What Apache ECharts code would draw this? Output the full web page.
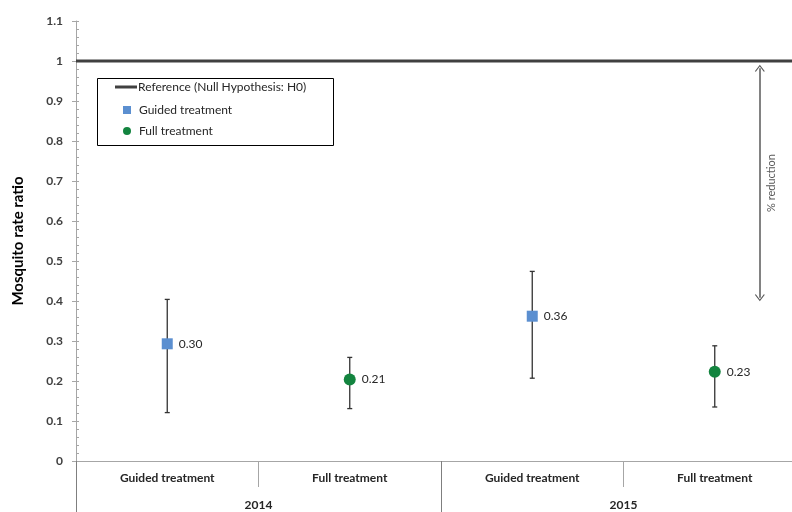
<!DOCTYPE html>
<html>
<head>
<meta charset="utf-8">
<script src="https://cdn.jsdelivr.net/npm/echarts@6/dist/echarts.min.js"></script>
<style>
  html, body { margin: 0; padding: 0; background: #fff; overflow: hidden; }
</style>
</head>
<body>
<div id="RateRatioChart" style="width: 810px;height:512px;"></div>
<script>
// 数据
var categories = ['Guided treatment', 'Full treatment', 'Guided treatment', 'Full treatment'];
var years = ['2014', '2015'];
var guidedValues = [0.293, '-', 0.362, '-'];
var fullValues = ['-', 0.204, '-', 0.223];
var pointLabels = ['0.30', '0.21', '0.36', '0.23'];
var ciLow = [0.121, 0.131, 0.207, 0.135];
var ciHigh = [0.404, 0.259, 0.474, 0.288];
var refValue = 1;
var arrowFrom = 0.408, arrowTo = 0.982, arrowX = 3.247;

var fontFamily = 'Lato, "Open Sans", sans-serif';
var axisGray = '#a6a6a6';
var textDark = '#262626';

var myChart = echarts.init(document.getElementById('RateRatioChart'));

// 误差线数据 [x, low, high]
var errData = ciLow.map(function (lo, i) {
  return [i, lo, ciHigh[i]];
});

var arrowHead = 'path://M0,10L5,0L10,10L9,10.8L5,2.6L1,10.8Z';

var option = {
  animation: false,
  textStyle: { fontFamily: fontFamily },
  grid: { left: 76, top: 21, width: 730, height: 440 },
  legend: [
    {
      data: [{ name: 'Reference (Null Hypothesis: H0)', icon: 'rect' }],
      left: 115, top: 81,
      padding: 0,
      itemWidth: 22, itemHeight: 3,
      itemGap: 0,
      textStyle: { color: textDark, fontSize: 12, fontFamily: fontFamily, padding: [0, 0, 0, -4] }
    },
    {
      data: ['Guided treatment', 'Full treatment'],
      orient: 'vertical',
      left: 123, top: 104,
      padding: 0,
      itemWidth: 8, itemHeight: 8,
      itemGap: 9,
      textStyle: { color: textDark, fontSize: 12, fontFamily: fontFamily, padding: [0, 0, 0, 3] }
    }
  ],
  graphic: [{
    type: 'rect',
    left: 95, top: 76,
    shape: { width: 236, height: 67 },
    style: { fill: 'none', stroke: '#000', lineWidth: 1 },
    z: 1
  }],
  xAxis: [
    {
      // 处理方式
      type: 'category',
      data: categories,
      position: 'bottom',
      axisLine: { show: true, onZero: false, lineStyle: { color: axisGray, width: 1 } },
      axisTick: { show: true, interval: 0, length: 26, lineStyle: { color: axisGray } },
      axisLabel: { interval: 0, margin: 11, color: textDark, fontSize: 12, fontWeight: 'bold', fontFamily: fontFamily },
      splitLine: { show: false }
    },
    {
      // 年份
      type: 'category',
      data: years,
      position: 'bottom',
      axisLine: { show: false, onZero: false },
      axisTick: { show: true, interval: 0, length: 51, lineStyle: { color: '#7f7f7f' } },
      axisLabel: { interval: 0, margin: 38, color: textDark, fontSize: 12, fontWeight: 'bold', fontFamily: fontFamily },
      splitLine: { show: false }
    },
    {
      // 参考线与箭头用的隐藏数值轴
      type: 'value',
      min: -0.5, max: 3.5,
      show: false,
      axisLine: { onZero: false }
    }
  ],
  yAxis: [
    {
      type: 'value',
      name: 'Mosquito rate ratio',
      nameLocation: 'middle',
      nameGap: 50,
      nameTextStyle: { color: '#000', fontSize: 15, fontWeight: 'bold', fontFamily: fontFamily },
      min: 0, max: 1.1, interval: 0.1,
      axisLine: { show: true, onZero: false, lineStyle: { color: axisGray } },
      axisTick: { show: true, inside: false, length: 4, lineStyle: { color: axisGray } },
      axisLabel: {
        margin: 13, color: '#404040', fontSize: 12, fontWeight: 'bold', fontFamily: fontFamily,
        formatter: function (v) { return String(+v.toFixed(1)); }
      },
      splitLine: { show: false }
    },
    {
      // 小刻度
      type: 'value',
      position: 'left',
      min: 0, max: 1.1, interval: 0.1,
      axisLine: { show: false, onZero: false },
      axisTick: { show: true, inside: true, length: 3, lineStyle: { color: axisGray } },
      minorTick: { show: true, splitNumber: 5, length: 3, lineStyle: { color: axisGray } },
      axisLabel: { show: false },
      splitLine: { show: false }
    }
  ],
  series: [
    {
      name: 'Reference (Null Hypothesis: H0)',
      type: 'line',
      xAxisIndex: 2, yAxisIndex: 0,
      symbol: 'none',
      lineStyle: { color: '#404040', width: 3 },
      itemStyle: { color: '#404040' },
      data: [[-0.5, refValue], [3.5, refValue]],
      z: 3,
      markLine: {
        silent: true,
        symbol: [arrowHead, arrowHead],
        symbolSize: [10, 7],
        lineStyle: { color: '#595959', width: 1.5, type: 'solid' },
        label: {
          show: true,
          position: 'insideMiddleBottom',
          distance: 6,
          formatter: '% reduction',
          color: '#595959',
          fontSize: 11,
          fontFamily: fontFamily
        },
        data: [[{ coord: [arrowX, arrowFrom] }, { coord: [arrowX, arrowTo] }]]
      }
    },
    {
      name: 'CI',
      type: 'custom',
      xAxisIndex: 0, yAxisIndex: 0,
      renderItem: function (params, api) {
        var top = api.coord([api.value(0), api.value(2)]);
        var bottom = api.coord([api.value(0), api.value(1)]);
        var cap = 2.5;
        var style = { stroke: '#333', lineWidth: 1.3 };
        return {
          type: 'group',
          children: [
            { type: 'line', shape: { x1: top[0], y1: top[1], x2: bottom[0], y2: bottom[1] }, style: style },
            { type: 'line', shape: { x1: top[0] - cap, y1: top[1], x2: top[0] + cap, y2: top[1] }, style: style },
            { type: 'line', shape: { x1: bottom[0] - cap, y1: bottom[1], x2: bottom[0] + cap, y2: bottom[1] }, style: style }
          ]
        };
      },
      encode: { x: 0, y: [1, 2] },
      data: errData,
      z: 2
    },
    {
      name: 'Guided treatment',
      type: 'scatter',
      xAxisIndex: 0, yAxisIndex: 0,
      symbol: 'rect',
      symbolSize: 11,
      itemStyle: { color: '#5b8fd0', opacity: 1 },
      label: {
        show: true, position: 'right', distance: 6,
        color: textDark, fontSize: 12, fontFamily: fontFamily,
        formatter: function (p) { return pointLabels[p.dataIndex]; }
      },
      data: guidedValues,
      z: 5
    },
    {
      name: 'Full treatment',
      type: 'scatter',
      xAxisIndex: 0, yAxisIndex: 0,
      symbol: 'circle',
      symbolSize: 12,
      itemStyle: { color: '#13843f', opacity: 1 },
      label: {
        show: true, position: 'right', distance: 6,
        color: textDark, fontSize: 12, fontFamily: fontFamily,
        formatter: function (p) { return pointLabels[p.dataIndex]; }
      },
      data: fullValues,
      z: 5
    }
  ]
};

myChart.setOption(option);
</script>
</body>
</html>
